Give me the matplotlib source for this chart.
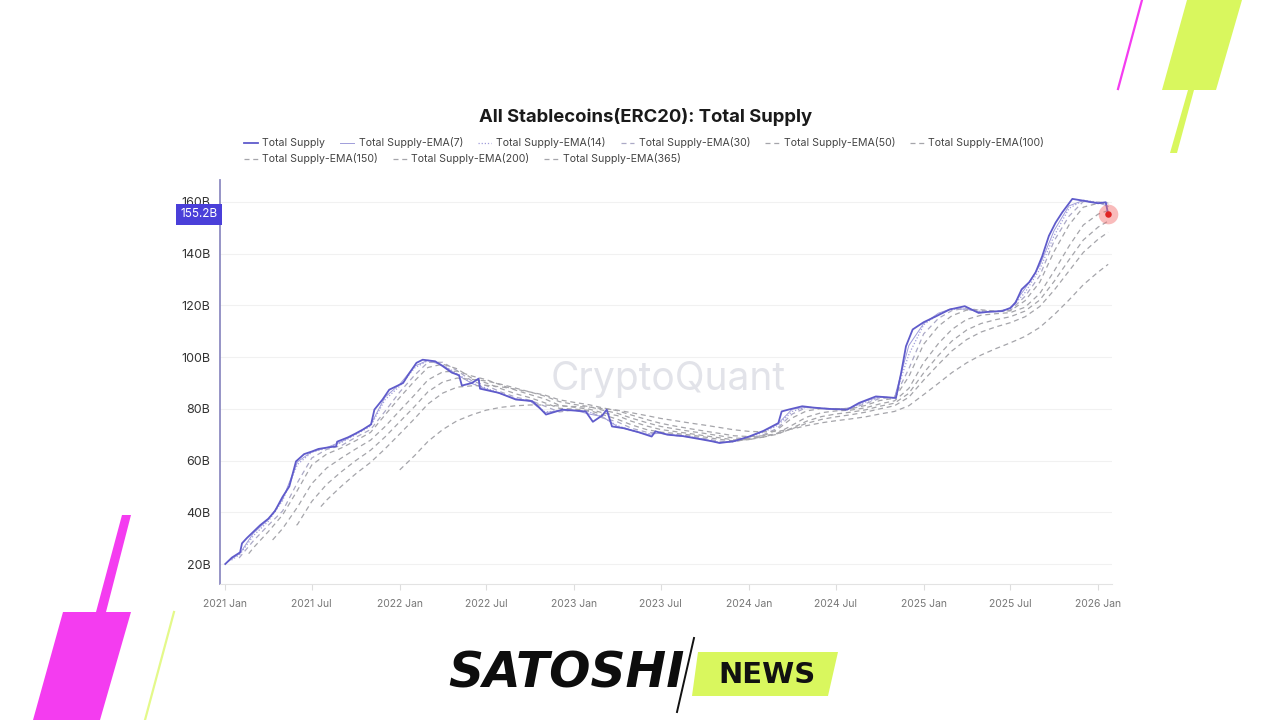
import matplotlib
matplotlib.use("Agg")
import matplotlib.pyplot as plt
from matplotlib.lines import Line2D
from matplotlib.patches import Polygon
import matplotlib.transforms as mtransforms
import numpy as np
import pandas as pd

plt.rcParams['font.family'] = ['Inter', 'DejaVu Sans']

# --- data (billions USD) ---
ts_dates = ["2021-01-01", "2021-01-15", "2021-02-01", "2021-02-05", "2021-02-15", "2021-03-01",
            "2021-03-15", "2021-04-01", "2021-04-15", "2021-05-01", "2021-05-15", "2021-05-29",
            "2021-06-15", "2021-07-01", "2021-07-15", "2021-08-01", "2021-08-21", "2021-08-23",
            "2021-09-15", "2021-10-01", "2021-10-16", "2021-11-02", "2021-11-09", "2021-11-26",
            "2021-12-10", "2022-01-08", "2022-01-20", "2022-02-05", "2022-02-18", "2022-03-16",
            "2022-04-01", "2022-04-20", "2022-05-05", "2022-05-11", "2022-06-01", "2022-06-15",
            "2022-06-18", "2022-07-27", "2022-09-01", "2022-10-05", "2022-10-20", "2022-11-03",
            "2022-12-07", "2023-01-25", "2023-02-09", "2023-03-01", "2023-03-10", "2023-03-21",
            "2023-04-15", "2023-05-15", "2023-06-12", "2023-06-20", "2023-07-15", "2023-08-15",
            "2023-09-15", "2023-10-15", "2023-11-01", "2023-12-01", "2024-01-02", "2024-02-01",
            "2024-03-03", "2024-03-10", "2024-03-24", "2024-04-22", "2024-05-15", "2024-06-15",
            "2024-07-25", "2024-08-19", "2024-09-23", "2024-10-15", "2024-11-04", "2024-11-15",
            "2024-11-25", "2024-12-09", "2025-01-01", "2025-01-27", "2025-02-24", "2025-03-28",
            "2025-04-26", "2025-05-15", "2025-06-14", "2025-07-01", "2025-07-12", "2025-07-25",
            "2025-08-10", "2025-08-23", "2025-09-06", "2025-09-20", "2025-10-04", "2025-10-18",
            "2025-11-08", "2025-12-01", "2025-12-15", "2026-01-01", "2026-01-17", "2026-01-22"]
total_supply = [20.0, 22.5, 24.5, 28.0, 30.0, 32.5,
                35.0, 37.5, 40.5, 46.0, 50.0, 59.7,
                62.5, 63.5, 64.5, 65.0, 65.5, 67.3,
                69.0, 70.5, 72.0, 74.0, 79.7, 83.6,
                87.4, 90.0, 93.5, 97.8, 99.0, 98.4,
                96.5, 94.0, 93.0, 89.0, 90.0, 91.7,
                87.8, 86.2, 83.6, 83.0, 80.5, 77.8,
                79.7, 79.0, 75.0, 77.5, 79.7, 73.2,
                72.5, 71.0, 69.3, 71.3, 70.0, 69.5,
                68.5, 67.5, 66.8, 67.5, 69.3, 71.5,
                74.5, 79.0, 79.7, 81.0, 80.5, 80.0,
                79.7, 82.3, 84.8, 84.5, 84.2, 94.0,
                104.2, 110.7, 113.5, 115.8, 118.4, 119.7,
                117.1, 117.5, 117.8, 119.0, 121.0, 126.2,
                129.0, 132.7, 139.0, 146.9, 152.0, 156.0,
                161.2, 160.5, 160.0, 159.5, 159.9, 155.2]

end_date = "2026-01-22"
# first point of each EMA, then month starts, then the last day
ema_starts = ["2021-01-07", "2021-01-14", "2021-01-30", "2021-02-19",
              "2021-04-10", "2021-05-30", "2021-07-20", "2022-01-01"]

ema7 = [21.0,
        24.2, 32.0, 37.2, 45.0, 59.5, 63.4, 65.0, 67.3, 70.3, 73.8, 84.5,
        89.5, 96.5, 98.8, 96.8, 93.2, 89.8, 87.6, 85.8, 83.8, 83.0, 78.5, 79.4,
        79.5, 78.0, 77.0, 73.2, 71.6, 70.1, 70.6, 69.6, 69.1, 68.1, 66.9, 67.4,
        69.1, 71.3, 74.0, 79.9, 80.6, 80.1, 79.8, 80.4, 83.0, 84.6, 84.3, 104.5,
        113.0, 117.0, 118.8, 118.5, 117.4, 117.7, 118.7, 126.5, 135.5, 149.0, 158.5, 160.6,
        159.7, 158.3]
ema14 = [21.5,
         23.8, 31.0, 36.5, 44.5, 58.5, 63.2, 64.8, 67.0, 70.0, 73.3, 83.5,
         88.8, 95.8, 98.7, 97.0, 93.6, 90.0, 88.0, 85.8, 83.9, 83.1, 78.8, 79.2,
         79.5, 78.8, 76.8, 73.5, 71.8, 70.3, 70.7, 69.7, 69.2, 68.2, 67.0, 67.3,
         68.9, 71.0, 73.5, 79.0, 80.7, 80.2, 79.8, 80.3, 82.6, 84.5, 84.3, 101.0,
         112.5, 116.6, 118.6, 118.6, 117.6, 117.7, 118.5, 125.0, 134.0, 147.0, 157.5, 160.7,
         159.9, 159.0]
ema30 = [22.3,
         22.8, 29.0, 35.0, 40.5, 51.5, 61.0, 64.3, 65.8, 69.0, 72.0, 79.0,
         86.5, 93.0, 98.0, 98.0, 94.8, 90.8, 89.0, 86.5, 84.5, 83.3, 81.0, 78.8,
         79.6, 79.0, 76.5, 75.0, 72.5, 71.0, 70.5, 70.0, 69.5, 68.5, 67.5, 67.2,
         68.5, 70.0, 72.5, 78.0, 80.5, 80.3, 80.0, 80.0, 82.0, 84.0, 84.4, 95.5,
         109.0, 115.0, 118.0, 119.0, 118.0, 117.6, 118.0, 123.5, 131.5, 145.0, 154.5, 160.2,
         160.0, 159.6]
ema50 = [24.0,
         26.3, 32.5, 39.0, 48.5, 58.3, 62.5, 64.9, 67.7, 70.9, 77.6,
         84.4, 90.8, 96.0, 97.3, 95.5, 91.8, 90.0, 87.8, 85.8, 84.3, 82.3, 80.2,
         79.9, 79.4, 77.8, 76.0, 73.8, 72.0, 71.0, 70.5, 69.9, 69.1, 68.2, 67.6,
         68.1, 69.6, 72.0, 76.5, 79.2, 80.1, 80.1, 80.0, 81.3, 83.2, 84.1, 92.5,
         105.0, 112.0, 116.0, 118.2, 118.3, 117.8, 117.9, 121.8, 129.0, 140.9, 151.1, 158.0,
         159.5, 159.3]
ema100 = [29.3,
          33.7, 42.0, 51.1, 57.1, 61.0, 64.5, 67.9, 73.1,
          79.3, 85.4, 91.2, 94.3, 94.6, 92.7, 91.3, 89.2, 87.2, 85.5, 83.8, 81.4,
          80.6, 79.9, 78.5, 77.4, 75.2, 73.4, 72.0, 71.2, 70.4, 69.6, 68.8, 68.0,
          68.1, 69.1, 70.6, 73.7, 76.8, 78.5, 79.2, 79.5, 80.4, 81.9, 83.1, 87.9,
          97.9, 105.3, 110.7, 114.6, 116.2, 116.8, 117.2, 119.3, 124.6, 133.3, 142.9, 151.1,
          155.3, 156.7]
ema150 = [35.0,
          35.3, 44.2, 50.8, 55.7, 60.0, 64.0, 69.1,
          75.0, 80.9, 86.6, 90.4, 91.9, 91.4, 90.8, 89.5, 88.0, 86.5, 84.9, 82.8,
          81.7, 80.9, 79.5, 78.3, 76.4, 74.7, 73.2, 72.2, 71.3, 70.5, 69.6, 68.7,
          68.5, 69.1, 70.2, 72.6, 75.2, 77.0, 78.0, 78.7, 79.6, 81.0, 82.2, 86.0,
          93.9, 100.7, 106.2, 110.5, 113.0, 114.5, 115.6, 117.8, 122.1, 129.3, 137.6, 145.3,
          150.3, 152.6]
ema200 = [42.2,
          44.7, 50.1, 54.9, 59.3, 64.5,
          70.3, 76.2, 81.9, 86.1, 88.4, 88.9, 89.1, 88.5, 87.6, 86.5, 85.3, 83.5,
          82.5, 81.6, 80.4, 79.3, 77.6, 75.9, 74.4, 73.3, 72.3, 71.4, 70.5, 69.6,
          69.3, 69.6, 70.4, 72.3, 74.4, 75.9, 76.9, 77.7, 78.7, 80.0, 81.2, 84.5,
          91.1, 97.2, 102.4, 106.8, 109.7, 111.7, 113.3, 115.6, 119.6, 125.9, 133.3, 140.5,
          145.6, 148.3]
ema365 = [56.4, 61.9, 67.4, 72.0, 75.4, 77.7, 79.5, 80.6, 81.2, 81.5, 81.5, 81.1,
          80.9, 80.7, 80.1, 79.5, 78.5, 77.4, 76.3, 75.4, 74.5, 73.7, 72.8, 71.9,
          71.3, 71.1, 71.3, 72.2, 73.5, 74.6, 75.4, 76.1, 76.9, 78.0, 79.0, 81.2,
          85.5, 89.9, 94.0, 97.8, 100.8, 103.3, 105.5, 108.0, 111.5, 116.4, 122.1, 128.0,
          132.9, 135.9]

ema_series = [ema7, ema14, ema30, ema50, ema100, ema150, ema200, ema365]
labels = ["Total Supply", "Total Supply-EMA(7)", "Total Supply-EMA(14)",
          "Total Supply-EMA(30)", "Total Supply-EMA(50)", "Total Supply-EMA(100)",
          "Total Supply-EMA(150)", "Total Supply-EMA(200)", "Total Supply-EMA(365)"]
y_ticks = [20, 40, 60, 80, 100, 120, 140, 160]


def ema_dates(start):
    d = list(pd.date_range(start, "2026-01-01", freq="MS"))
    if pd.Timestamp(start) != d[0]:
        d = [pd.Timestamp(start)] + d
    return d + [pd.Timestamp(end_date)]


fig = plt.figure(figsize=(12.8, 7.2), dpi=100)
fig.patch.set_facecolor("white")
ax = fig.add_axes([220 / 1280, 136 / 720, 892 / 1280, 404 / 720])

purple = "#5f5bcb"
light_purple = "#a09dda"
grey = "#a5a5aa"
styles = [dict(color=light_purple, lw=0.7, ls="-"),
          dict(color=light_purple, lw=0.9, ls=(0, (1, 1.5))),
          dict(color="#aba9c6", lw=0.9, ls=(0, (4, 3))),
          dict(color=grey, lw=0.9, ls=(0, (4, 3))),
          dict(color=grey, lw=0.9, ls=(0, (4, 3))),
          dict(color=grey, lw=0.9, ls=(0, (4, 3))),
          dict(color=grey, lw=0.9, ls=(0, (4, 3))),
          dict(color=grey, lw=0.9, ls=(0, (4, 3)))]

handles = []
for vals, start, st, lab in zip(ema_series, ema_starts, styles, labels[1:]):
    d = ema_dates(start)
    assert len(d) == len(vals), (lab, len(d), len(vals))
    ln, = ax.plot(d, vals, label=lab, zorder=2, **st)
    handles.append(ln)

ts_d = pd.to_datetime(ts_dates)
main, = ax.plot(ts_d, total_supply, color=purple, lw=1.3, zorder=4, label=labels[0])
handles = [main] + handles

# last value marker
ax.scatter([ts_d[-1]], [total_supply[-1]], s=200, color="#f26a6a", alpha=0.45, zorder=5, lw=0,
           clip_on=False)
ax.scatter([ts_d[-1]], [total_supply[-1]], s=22, color="#e02424", zorder=6, lw=0, clip_on=False)

ax.set_xlim(pd.Timestamp("2020-12-21"), pd.Timestamp("2026-01-30"))
ax.set_ylim(12.27, 168.5)
ax.set_yticks(y_ticks)
ax.set_yticklabels([f"{v}B" for v in y_ticks])
xt = pd.date_range("2021-01-01", "2026-01-01", freq="6MS")
ax.set_xticks(xt)
ax.set_xticklabels([t.strftime("%Y %b") for t in xt])
ax.tick_params(axis="y", length=0, pad=7, labelsize=9, labelcolor="#333333")
ax.tick_params(axis="x", length=4, color="#dddddd", pad=7, labelsize=7.5, labelcolor="#777777")
ax.grid(axis="y", color="#f1f1f1", lw=0.8)
ax.set_axisbelow(True)
for s in ["top", "right"]:
    ax.spines[s].set_visible(False)
ax.spines["left"].set_color("#8e8bc2")
ax.spines["left"].set_linewidth(1.3)
ax.spines["bottom"].set_color("#e3e3e3")

# current value tag on the y axis
trans = mtransforms.blended_transform_factory(ax.transAxes, ax.transData)
ax.text(-0.003, total_supply[-1], f"{total_supply[-1]}B", transform=trans, ha="right", va="center",
        color="white", fontsize=8.5, zorder=10,
        bbox=dict(boxstyle="square,pad=0.38", fc="#4a3fd9", ec="none"))

# watermark
fig.text(668 / 1280, 1 - 380 / 720, "CryptoQuant", fontsize=28, color="#e2e3e9",
         ha="center", va="center", zorder=0)

fig.text(646 / 1280, 1 - 117 / 720, "All Stablecoins(ERC20): Total Supply", fontsize=13.3,
         weight="bold", color="#1a1a1a", ha="center", va="center")

leg_kw = dict(frameon=False, fontsize=7.6, handlelength=1.3, handletextpad=0.45,
              columnspacing=1.4, borderaxespad=0, borderpad=0, labelcolor="#444444")
leg1 = fig.legend(handles[:6], labels[:6], loc="center left", ncol=6,
                  bbox_to_anchor=(244 / 1280, 1 - 143 / 720), **leg_kw)
leg2 = fig.legend(handles[6:], labels[6:], loc="center left", ncol=3,
                  bbox_to_anchor=(244 / 1280, 1 - 159 / 720), **leg_kw)

# decorations (pixel layout of the banner)
def px(pts):
    return [(x / 1280, 1 - y / 720) for x, y in pts]

lime = "#d9f75e"
magenta = "#f43cf0"
fig.add_artist(Polygon(px([(1187, 0), (1242, 0), (1216, 90), (1162, 90)]), closed=True,
                       fc=lime, ec="none", transform=fig.transFigure))
fig.add_artist(Polygon(px([(1188, 90), (1194, 90), (1177, 153), (1170, 153)]), closed=True,
                       fc=lime, ec="none", transform=fig.transFigure))
fig.add_artist(Line2D([1118 / 1280, 1142 / 1280], [1 - 89 / 720, 1.0], color=magenta, lw=1.6,
                      transform=fig.transFigure))
fig.add_artist(Polygon(px([(63, 612), (131, 612), (100, 720), (33, 720)]), closed=True,
                       fc=magenta, ec="none", transform=fig.transFigure))
fig.add_artist(Polygon(px([(122, 515), (131, 515), (106, 612), (96, 612)]), closed=True,
                       fc=magenta, ec="none", transform=fig.transFigure))
fig.add_artist(Line2D([174 / 1280, 145 / 1280], [1 - 612 / 720, 0.0], color="#e4f98a", lw=1.6,
                      transform=fig.transFigure))

# logo
fig.text(566 / 1280, 1 - 673 / 720, "SATOSHI", fontsize=35, weight="heavy", style="italic",
         family="DejaVu Sans", color="#0d0d0d", ha="center", va="center")
fig.add_artist(Line2D([694 / 1280, 677 / 1280], [1 - 638 / 720, 1 - 712 / 720], color="#111111",
                      lw=1.4, transform=fig.transFigure))
fig.add_artist(Polygon(px([(698, 652), (838, 652), (828, 696), (692, 696)]), closed=True,
                       fc=lime, ec="none", transform=fig.transFigure))
fig.text(767 / 1280, 1 - 675 / 720, "NEWS", fontsize=21, weight="bold", family="DejaVu Sans",
         color="#111111", ha="center", va="center")

fig.savefig("out.png", dpi=100, facecolor="white")
